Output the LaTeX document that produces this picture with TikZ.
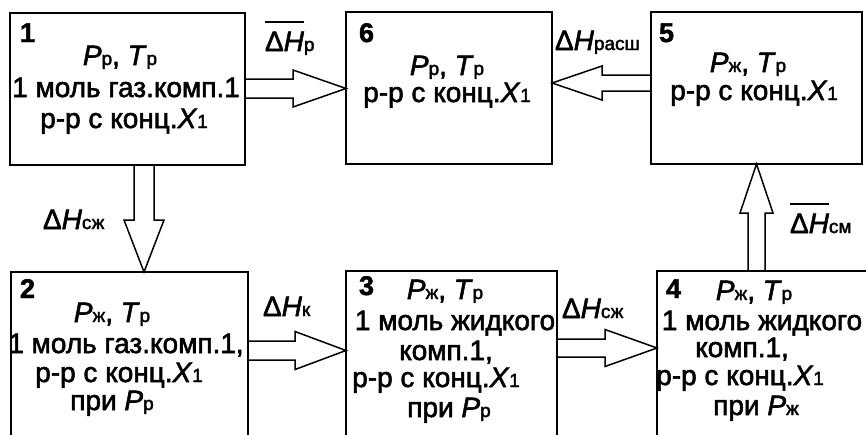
\documentclass[tikz,border=0pt]{standalone}
\usepackage{fontspec}
\setmainfont{Liberation Sans}
\newfontfamily\heavy{Liberation Sans}[FakeBold=2]
\newfontfamily\numfont{Liberation Sans Bold}[FakeBold=1.8]
\usetikzlibrary{calc}
\newcommand\ssub[1]{{\fontsize{19}{19}\selectfont #1}}
\newcommand\ovbar[1]{\vbox{\hrule height 1.5pt\kern 9pt\hbox{#1}}}
\newcommand\XI{\textit{X}\ssub{1}}
\tikzset{
  box/.style={draw, line width=2pt, inner sep=0pt, outer sep=0pt},
  txt/.style={inner sep=0pt, outer sep=0pt, anchor=base, font=\heavy\fontsize{28}{30}\selectfont},
  num/.style={inner sep=0pt, outer sep=0pt, anchor=base west, font=\numfont\fontsize{27}{30}\selectfont},
  lbl/.style={inner sep=0pt, outer sep=0pt, anchor=base west, font=\heavy\fontsize{28}{30}\selectfont},
  blk/.style={draw, line width=1.5pt, line join=miter},
}
\begin{document}
\begin{tikzpicture}[x=1pt,y=-1pt]
\useasboundingbox (0,0) rectangle (866,434);
% boxes
\node[box, minimum width=235pt, minimum height=152pt] (b1) at (127.5,89) {};
\node[box, minimum width=206pt, minimum height=152pt] (b6) at (449,88) {};
\node[box, minimum width=211pt, minimum height=152pt] (b5) at (756.5,88) {};
\node[box, minimum width=237pt, minimum height=173pt] (b2) at (129.5,358.5) {};
\node[box, minimum width=211pt, minimum height=174pt] (b3) at (451.5,358) {};
\node[box, minimum width=223pt, minimum height=174pt] (b4) at (768.5,358) {};
% helper coordinates
\coordinate (y16) at (0,88.5);
\coordinate (y56) at (0,83);
\coordinate (x12) at (144,0);
\coordinate (y23) at (0,350.5);
\coordinate (y34) at (0,348);
\coordinate (x45) at (756.5,0);
% block arrows
% 1 -> 6
\draw[blk] ($(b1.east|-y16)+(0,-9.5)$) -- ($(b6.west|-y16)+(-53,-9.5)$) -- ++(0,-9)
  -- (b6.west|-y16) -- ($(b6.west|-y16)+(-53,18.5)$) -- ++(0,-9) -- ($(b1.east|-y16)+(0,9.5)$);
% 5 -> 6
\draw[blk] ($(b5.west|-y56)+(0,-8)$) -- ($(b6.east|-y56)+(50,-8)$) -- ++(0,-9)
  -- (b6.east|-y56) -- ($(b6.east|-y56)+(50,17)$) -- ++(0,-9) -- ($(b5.west|-y56)+(0,8)$);
% 1 -> 2
\draw[blk] ($(b1.south-|x12)+(-10,0)$) -- ($(b2.north-|x12)+(-10,-52)$) -- ++(-10,0)
  -- (b2.north-|x12) -- ($(b2.north-|x12)+(20,-52)$) -- ++(-10,0) -- ($(b1.south-|x12)+(10,0)$);
% 2 -> 3
\draw[blk] ($(b2.east|-y23)+(0,-9.5)$) -- ($(b3.west|-y23)+(-51,-9.5)$) -- ++(0,-9.5)
  -- (b3.west|-y23) -- ($(b3.west|-y23)+(-51,19)$) -- ++(0,-9.5) -- ($(b2.east|-y23)+(0,9.5)$);
% 3 -> 4
\draw[blk] ($(b3.east|-y34)+(0,-9)$) -- ($(b4.west|-y34)+(-52,-9)$) -- ++(0,-9.5)
  -- (b4.west|-y34) -- ($(b4.west|-y34)+(-52,18.5)$) -- ++(0,-9.5) -- ($(b3.east|-y34)+(0,9)$);
% 4 -> 5
\draw[blk] ($(b4.north-|x45)+(-8.5,0)$) -- ($(b5.south-|x45)+(-8.5,49)$) -- ++(-8,0)
  -- (b5.south-|x45) -- ($(b5.south-|x45)+(16.5,49)$) -- ++(-8,0) -- ($(b4.north-|x45)+(8.5,0)$);
% arrow labels
\node[lbl] (l16) at (265,51) {\ovbar{Δ\textit{H}}\ssub{р}};
\node[lbl] (l56) at (555,50) {Δ\textit{H}\ssub{расш}};
\node[lbl] (l12) at (43,229) {Δ\textit{H}\ssub{сж}};
\node[lbl] (l23) at (263,316) {Δ\textit{H}\ssub{к}};
\node[lbl] (l34) at (562,318) {Δ\textit{H}\ssub{сж}};
\node[lbl] (l45) at (790,233) {\ovbar{Δ\textit{H}}\ssub{см}};
% box 1
\node[num] (n1) at (20,42) {1};
\node[txt] (t1a) at (120,65) {\textit{P}\ssub{р}, \textit{T}\ssub{р}};
\node[txt] (t1b) at (126,97) {1 моль газ.комп.1};
\node[txt] (t1c) at (124,128) {р-р с конц.\XI};
% box 6
\node[num] (n6) at (359,42) {6};
\node[txt] (t6a) at (447,75) {\textit{P}\ssub{р}, \textit{T}\ssub{р}};
\node[txt] (t6b) at (447,102) {р-р с конц.\XI};
% box 5
\node[num] (n5) at (659,42) {5};
\node[txt] (t5a) at (748,72) {\textit{P}\ssub{ж}, \textit{T}\ssub{р}};
\node[txt] (t5b) at (754,100) {р-р с конц.\XI};
% box 2
\node[num] (n2) at (20,298) {2};
\node[txt] (t2a) at (112,322) {\textit{P}\ssub{ж}, \textit{T}\ssub{р}};
\node[txt] (t2b) at (126,353) {1 моль газ.комп.1,};
\node[txt] (t2c) at (119,382) {р-р с конц.\XI};
\node[txt] (t2d) at (112,410) {при \textit{P}\ssub{р}};
% box 3
\node[num] (n3) at (359,295) {3};
\node[txt] (t3a) at (445,299) {\textit{P}\ssub{ж}, \textit{T}\ssub{р}};
\node[txt] (t3b) at (455,330) {1 моль жидкого};
\node[txt] (t3c) at (446,360) {комп.1,};
\node[txt] (t3d) at (436,387) {р-р с конц.\XI};
\node[txt] (t3e) at (449,417) {при \textit{P}\ssub{р}};
% box 4
\node[num] (n4) at (666,298) {4};
\node[txt] (t4a) at (754,300) {\textit{P}\ssub{ж}, \textit{T}\ssub{р}};
\node[txt] (t4b) at (762,330) {1 моль жидкого};
\node[txt] (t4c) at (742,357) {комп.1,};
\node[txt] (t4d) at (740,385) {р-р с конц.\XI};
\node[txt] (t4e) at (756,415) {при \textit{P}\ssub{ж}};
\end{tikzpicture}
\end{document}
